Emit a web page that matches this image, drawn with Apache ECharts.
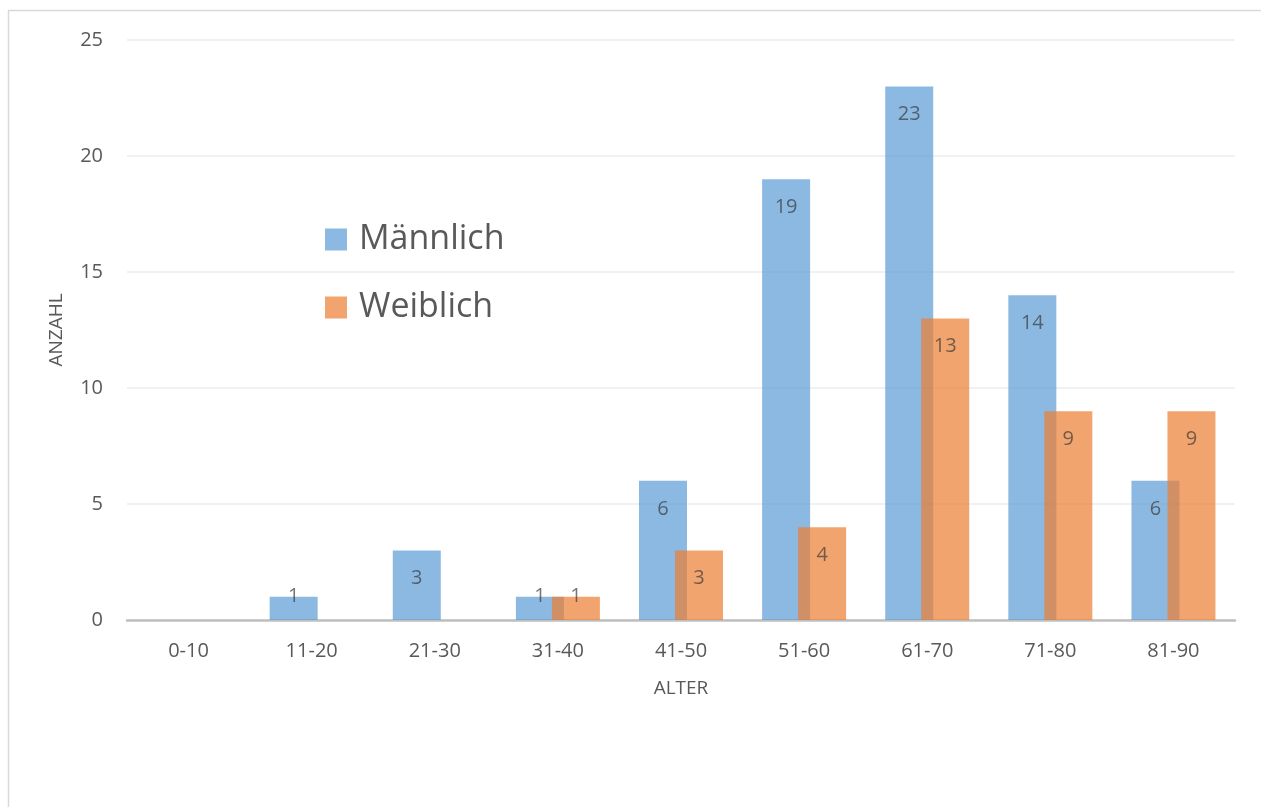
<!DOCTYPE html>
<html>
<head>
<meta charset="utf-8">
<script src="https://cdn.jsdelivr.net/npm/echarts@6/dist/echarts.min.js"></script>
<style>
html,body{margin:0;padding:0;background:#fff;}
#chart{width:1261px;height:807px;}
</style>
</head>
<body>
<div id="chart"></div>
<script>
const categories = ['0-10','11-20','21-30','31-40','41-50','51-60','61-70','71-80','81-90'];
const maennlich = [0,1,3,1,6,19,23,14,6];
const weiblich = [0,0,0,1,3,4,13,9,9];
const seriesNames = ['Männlich','Weiblich'];
const yTicks = {min:0, max:25, interval:5};

const FONT = '"Open Sans", sans-serif';
function items(vals){
  return vals.map(v => {
    const it = {value: v};
    if (v === 1) it.label = {position:'top', distance:-9};
    return it;
  });
}
const labelCfg = {
  show:true, position:'insideTop', distance:18,
  color:'#3A3A3A', fontSize:20, fontFamily:FONT,
  formatter: p => p.value === 0 ? '' : String(p.value)
};

const chart = echarts.init(document.getElementById('chart'), null, {renderer:'canvas'});
chart.setOption({
  animation:false,
  backgroundColor:'#fff',
  graphic:[{type:'rect', shape:{x:8.5,y:10.5,width:1400,height:1000}, style:{fill:'none', stroke:'#D9D9D9', lineWidth:1.5}, silent:true, z:-1}],
  legend:{
    orient:'vertical', left:325, top:216, padding:0,
    itemWidth:22, itemHeight:22, itemGap:21, icon:'rect',
    textStyle:{fontSize:34, fontFamily:FONT, color:'#595959', lineHeight:44, padding:[3,0,0,7]},
    data: seriesNames
  },
  grid:{left:127, right:26, top:40, bottom:187, containLabel:false},
  xAxis:{
    type:'category', data:categories,
    name:'ALTER', nameLocation:'middle', nameGap:59,
    nameTextStyle:{fontSize:19, fontFamily:FONT, color:'#595959'},
    axisLine:{lineStyle:{color:'#BFBFBF', width:2.5}},
    axisTick:{show:false},
    axisLabel:{fontSize:20, fontFamily:FONT, color:'#595959', margin:21}
  },
  yAxis:{
    type:'value', min:yTicks.min, max:yTicks.max, interval:yTicks.interval,
    name:'ANZAHL', nameLocation:'middle', nameGap:61, nameRotate:90,
    nameTextStyle:{fontSize:19, fontFamily:FONT, color:'#595959'},
    axisLine:{show:false}, axisTick:{show:false},
    axisLabel:{fontSize:20, fontFamily:FONT, color:'#595959', margin:24},
    splitLine:{lineStyle:{color:'#EDEDED', width:1.5}}
  },
  series:[
    {name:seriesNames[0], type:'bar', data:items(maennlich), barWidth:48, barGap:'-25%',
     itemStyle:{color:'#5B9BD5', opacity:0.7}, label:labelCfg},
    {name:seriesNames[1], type:'bar', data:items(weiblich), barWidth:48, barGap:'-25%',
     itemStyle:{color:'#ED7D31', opacity:0.7}, label:labelCfg}
  ]
});
</script>
</body>
</html>
